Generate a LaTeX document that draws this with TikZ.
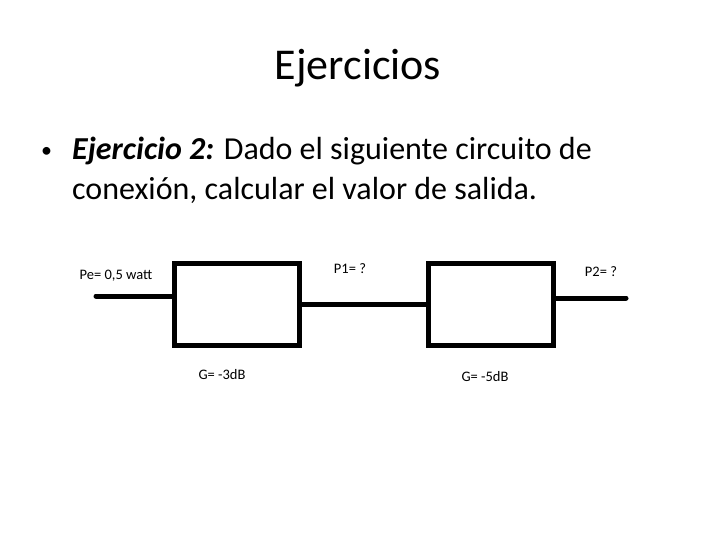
\documentclass[tikz,border=0pt]{standalone}
\usepackage{fontspec}
\setmainfont{Carlito}
\usetikzlibrary{positioning}

\begin{document}
\begin{tikzpicture}[
    x=1pt, y=-1pt,
    block/.style={draw=black, line width=5pt, minimum width=125pt, minimum height=82pt, inner sep=0pt},
    wire/.style={line width=5pt, line cap=round},
    tag/.style={font=\fontsize{14.5}{17}\selectfont, inner sep=0pt}
]
    \useasboundingbox (0,0) rectangle (720,540);

    % Heading and bullet text
    \node (title) at (358,68) {\fontsize{44}{52}\selectfont Ejercicios};
    \node[anchor=base west, inner sep=0pt] (bullet) at (41,158)
        {\fontsize{22}{26}\selectfont \textbullet};
    \node[anchor=base west, inner sep=0pt] (line1) at (72,160)
        {\fontsize{32}{38}\selectfont \textbf{\textit{Ejercicio 2:}} Dado el siguiente circuito de};
    \node[anchor=base west, inner sep=0pt] (line2) at (72,200)
        {\fontsize{32}{38}\selectfont conexión, calcular el valor de salida.};

    % Blocks
    \node[block] (b1) at (237,304) {};
    \node[block] (b2) at (491,304) {};

    % Wires
    \coordinate (in) at (96,296);
    \coordinate (out) at (626,298);
    \draw[wire] (in) -- (in -| b1.west);
    \draw[wire] (b1.east) -- (b2.west);
    \draw[wire] (b2.east |- out) -- (out);

    % Labels
    \node[tag] (pe) at (116,276) {Pe= 0,5 watt};
    \node[tag] (p1) at (350,269) {P1= ?};
    \node[tag] (p2) at (601,272) {P2= ?};
    \node[tag] (g1) at (222,375) {G= -3dB};
    \node[tag] (g2) at (485,377) {G= -5dB};
\end{tikzpicture}
\end{document}
